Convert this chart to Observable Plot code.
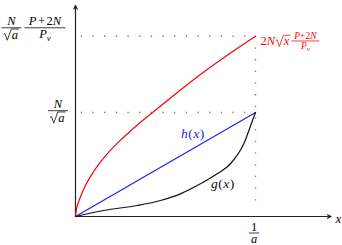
<!DOCTYPE html>
<html><head><meta charset="utf-8">
<script src="https://cdn.jsdelivr.net/npm/d3@7"></script>
<script src="https://cdn.jsdelivr.net/npm/@observablehq/plot@0.6"></script>
<style>html,body{margin:0;padding:0;background:#fff} svg{display:block}</style>
</head><body><div id="chart"></div>
<script>
// x in units of 1/a, y in units of N/sqrt(a)
const redX = [0, 0.005, 0.015, 0.03, 0.06, 0.1, 0.17, 0.26, 0.35, 0.428, 0.528, 0.656, 0.843, 1.0];
const redY = [0, 0.065, 0.13, 0.2, 0.315, 0.43, 0.59, 0.75, 0.89, 1.0, 1.14, 1.315, 1.55, 1.733];
const hX = [0, 1];
const hY = [0, 1];
const gX = [0, 0.157, 0.343, 0.472, 0.583, 0.694, 0.787, 0.861, 0.935, 0.99, 1.0];
const gY = [0, 0.058, 0.106, 0.154, 0.218, 0.314, 0.41, 0.507, 0.699, 0.955, 1.0];
const xMarks = [1];            // 1/a
const yMarks = [1, 1.733];     // N/√a , N/√a·(P+2N)/Pv
const axisEnds = {x: 1.42, y: 2.03};

const red = redX.map((x, i) => ({x, y: redY[i]}));
const h = hX.map((x, i) => ({x, y: hY[i]}));
const g = gX.map((x, i) => ({x, y: gY[i]}));

const chart = Plot.plot({
  width: 342, height: 245,
  marginLeft: 75, marginRight: 87, marginTop: 8, marginBottom: 29,
  x: {domain: [0, 1], axis: null},
  y: {domain: [0, 2], axis: null},
  marks: [
    Plot.ruleY(yMarks, {x1: 0.032, x2: 1.006, stroke: "#777", strokeWidth: 1.3, strokeDasharray: "1.3 10.37"}),
    Plot.ruleX(xMarks, {y1: yMarks[1], y2: 0.05, stroke: "#777", strokeWidth: 1.3, strokeDasharray: "1.3 10.37"}),
    Plot.arrow([0], {x1: 0, y1: 0, x2: axisEnds.x, y2: 0, stroke: "#222", strokeWidth: 1.2, headLength: 5, headAngle: 50}),
    Plot.arrow([0], {x1: 0, y1: 0, x2: 0, y2: axisEnds.y, stroke: "#222", strokeWidth: 1.2, headLength: 5, headAngle: 50}),
    Plot.line(red, {x: "x", y: "y", stroke: "#f00", strokeWidth: 1.2, curve: "monotone-x"}),
    Plot.line(h, {x: "x", y: "y", stroke: "#1f1fff", strokeWidth: 1.2}),
    Plot.line(g, {x: "x", y: "y", stroke: "#111", strokeWidth: 1.2, curve: "monotone-x"})
  ]
});
document.getElementById("chart").appendChild(chart);

const X = chart.scale("x"), Y = chart.scale("y");
const sx = v => X.apply(v), sy = v => Y.apply(v);
const FONT = "'Liberation Serif', 'DejaVu Serif', serif";
const layer = d3.select(chart).append("g").attr("font-family", FONT);

// parts: [text, italic, subscript, dx]
function txt(x, y, parts, size, fill, anchor = "start") {
  const t = layer.append("text").attr("x", x).attr("y", y)
    .attr("font-size", size).attr("fill", fill).attr("text-anchor", anchor);
  for (const [s, it, sub, dx] of parts) {
    const ts = t.append("tspan").text(s).attr("font-style", it ? "italic" : "normal");
    if (sub) ts.attr("font-size", size * 0.72).attr("dy", size * 0.22);
    if (dx) ts.attr("dx", dx);
  }
  return t;
}
function width(t) { return t.node().getComputedTextLength(); }
function bar(x1, x2, y, fill) {
  layer.append("line").attr("x1", x1).attr("x2", x2).attr("y1", y).attr("y2", y)
    .attr("stroke", fill).attr("stroke-width", 0.75);
}
function sqrt(x0, base, size, parts, fill) {
  const rw = size * 0.62;
  const t = txt(x0 + rw + 0.5, base, parts, size, fill);
  const w = width(t);
  const top = base - size * 0.8;
  layer.append("path")
    .attr("d", `M${x0},${base - size * 0.36} L${x0 + size * 0.12},${base - size * 0.44} L${x0 + size * 0.3},${base + size * 0.1} L${x0 + rw},${top} L${x0 + rw + w + 1.5},${top}`)
    .attr("fill", "none").attr("stroke", fill).attr("stroke-width", 0.75);
  return rw + w + 1.5;
}
function frac(cx, barY, num, denFn, size, fill, w) {
  txt(cx, barY - size * 0.2, num, size, fill, "middle");
  bar(cx - w / 2, cx + w / 2, barY, fill);
  denFn(cx, barY + size * 0.9);
}
function sqrtCentered(cx, base, size, parts, fill) {
  const probe = txt(0, -100, parts, size, fill);
  const w = width(probe) + size * 0.62 + 2;
  probe.remove();
  sqrt(cx - w / 2, base, size, parts, fill);
}

const S = 12.5;
// y label N/√a at y=1
{
  const cx = sx(0) - 17, by = sy(yMarks[0]) - 1.3;
  frac(cx, by, [["N", true]], (c, b) => sqrtCentered(c, b, S, [["a", true]], "#000"), S, "#000", 20);
}
// top y label
{
  const by = sy(yMarks[1]) - 8;
  frac(11.5, by, [["N", true]], (c, b) => sqrtCentered(c, b, S, [["a", true]], "#000"), S, "#000", 20);
  frac(45, by, [["P", true], ["+", false, false, 1.5], ["2", false, false, 1.5], ["N", true]],
    (c, b) => txt(c, b - 1, [["P", true], ["v", true, true]], S, "#000", "middle"), S, "#000", 41);
}
// x label 1/a
{
  const cx = sx(xMarks[0]) - 1, by = sy(0) + 17;
  frac(cx, by, [["1", false]], (c, b) => txt(c, b - 1, [["a", true]], S, "#000", "middle"), S, "#000", 10);
}
// axis name x
txt(sx(axisEnds.x) + 5, sy(0) + 6.5, [["x", true]], 13, "#000");
// h(x), g(x)
txt(sx(0.653), sy(0.653) - 10, [["h", true], ["(", false, false, 0.5], ["x", true, false, 0.5], [")", false, false, 0.5]], 13.5, "#1f1fff", "middle");
txt(sx(0.82), sy(0.27), [["g", true], ["(", false, false, 0.5], ["x", true, false, 0.5], [")", false, false, 0.5]], 13.5, "#111", "middle");
// red label 2N√x (P+2N)/Pv
{
  const x0 = sx(1) + 5.5, base = sy(yMarks[1]) + 9.5;
  const t = txt(x0, base, [["2", false], ["N", true]], 12.5, "#f00");
  const w1 = width(t);
  const w2 = sqrt(x0 + w1 + 0.5, base, 12.5, [["x", true]], "#f00");
  const fx = x0 + w1 + w2 + 1.5;
  const fw = 28, s2 = 9.5;
  frac(fx + fw / 2, base - 4.3, [["P", true], ["+2", false], ["N", true]],
    (c, b) => txt(c, b - 0.5, [["P", true], ["v", true, true]], s2, "#f00", "middle"), s2, "#f00", fw);
}
</script></body></html>
